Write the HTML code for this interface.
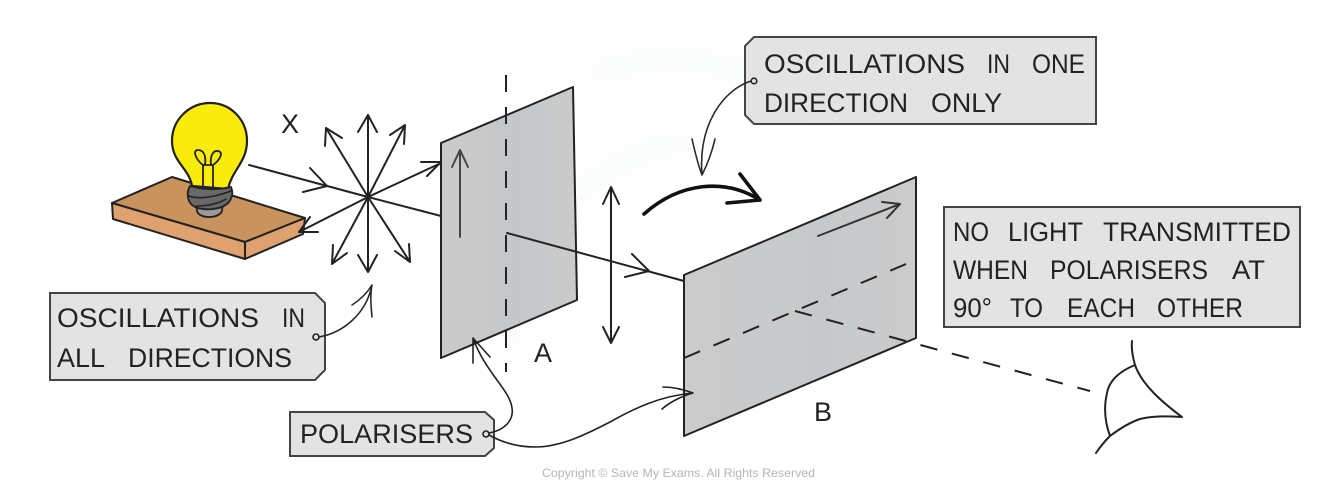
<!DOCTYPE html>
<html>
<head>
<meta charset="utf-8">
<style>
html,body{margin:0;padding:0;background:#fff;width:1334px;height:499px;overflow:hidden}
svg{display:block}
text{font-family:"Liberation Sans",sans-serif;fill:#222}
.l{fill:none;stroke:#222;stroke-width:2;stroke-linecap:round;stroke-linejoin:round}
.t{fill:none;stroke:#2a2a2a;stroke-width:1.6;stroke-linecap:round;stroke-linejoin:round}
.b{fill:#e3e3e3;stroke:#444;stroke-width:2}
.d{fill:none;stroke:#222;stroke-width:2}
.lab text,.lab{font-size:27px}
</style>
</head>
<body>
<svg width="1334" height="499" viewBox="0 0 1334 499" xmlns="http://www.w3.org/2000/svg">
<defs>
<linearGradient id="ga" x1="0" y1="0" x2="1" y2="0">
<stop offset="0" stop-color="#cbcbcb"/><stop offset=".3" stop-color="#c9c9c9"/><stop offset=".55" stop-color="#c3c7ca"/><stop offset="1" stop-color="#cbcbcb"/>
</linearGradient>
<linearGradient id="gb" x1="0" y1="0" x2="1" y2="0">
<stop offset="0" stop-color="#cbcbcb"/><stop offset=".6" stop-color="#c6c9cb"/><stop offset="1" stop-color="#cbcbcb"/>
</linearGradient>
<filter id="bl"><feGaussianBlur stdDeviation="10"/></filter>
</defs>

<!-- faint watermark -->
<g filter="url(#bl)" fill="none" stroke="#f9fbfc" stroke-width="26">
<path d="M590 75 C680 40 780 70 830 125"/>
<path d="M520 350 C470 270 560 170 690 140"/>
</g>

<!-- Board -->
<path d="M112 203 L172 177 L305 218 L245 242 Z" fill="#c8935c" stroke="#222" stroke-width="2" stroke-linejoin="round"/>
<path d="M112 203 L245 242 L245 259 L113 219 Z" fill="#dfa26f" stroke="#222" stroke-width="2" stroke-linejoin="round"/>
<path d="M245 242 L305 218 L303 234 L245 259 Z" fill="#dfa26f" stroke="#222" stroke-width="2" stroke-linejoin="round"/>

<!-- Bulb -->
<path d="M192 186 C189 168 172 162 172 141 C172 119 190 103 210 103 C231 103 247 120 247 141 C247 162 232 170 228 189 Z" fill="#f9ec0c" stroke="#222" stroke-width="2.2" stroke-linejoin="round"/>
<path d="M203 188 L203 165 C196 160 192 150 198 150 C205 150 206 158 205 165 M213 188 L213 165 C220 160 224 152 218 151 C212 150 210 158 211 165 M203 165 L213 165" class="t" style="stroke:#222;stroke-width:1.8"/>
<path d="M196 200 L197 211 C199 219 219 219 222 211 L223 200 Z" fill="#9a9a9a" stroke="#222" stroke-width="1.8"/>
<path d="M190 186 C186 193 187 203 195 207 C205 211 222 210 229 202 C233 196 233 192 231 187 C218 190 204 190 190 186 Z" fill="#686868" stroke="#222" stroke-width="1.8"/>
<path d="M189 196 C200 200 218 196 231 191 M196 206 C206 206 218 204 226 199" class="t" style="stroke:#222"/>

<g class="lab"><text x="290" y="133" text-anchor="middle">X</text></g>

<!-- Star -->
<path class="l" d="M368 197 L368 115 M358 132 L368 115 L377 132 M368 197 L326 128 M325 146 L326 128 L342 138 M368 197 L405 125 M390 135 L405 125 L404 144"/>
<path class="l" d="M368 197 L368 272 M358 255 L368 272 L377 255 M368 197 L332 264 M333 245 L332 264 L347 253 M368 197 L410 262 M395 251 L410 262 L409 244"/>
<path class="l" d="M368 197 L299 232 M310 217 L299 232 L318 232"/>
<path class="l" d="M249 165 L368 197 M310 168 L327 186 L303 192"/>

<!-- Panel A -->
<path d="M441 143 L573 87 L577 300 L441 358 Z" fill="url(#ga)" stroke="#222" stroke-width="2" stroke-linejoin="round"/>
<path class="l" d="M368 197 L441 163 M421 162 L441 162 L427 176 M368 197 L441 216"/>
<path class="l" d="M460 237 L460 150 M452 167 L460 150 L468 167" style="stroke:#444"/>
<path d="M506 75 L506 372" class="d" stroke-dasharray="17 15"/>
<path class="l" d="M507 233 L684 281 M632 254 L649 271 L625 277"/>

<!-- Double arrow -->
<path class="l" d="M611 187 L611 343 M603 204 L611 187 L619 204 M603 327 L611 343 L619 327"/>

<!-- Thick curved arrow -->
<path d="M644 214 C680 182 725 178 760 200 M740 174 L760 200 L727 203" fill="none" stroke="#111" stroke-width="3.6" stroke-linecap="round" stroke-linejoin="round"/>

<!-- Panel B -->
<path d="M684 275 L916 177 L916 338 L684 436 Z" fill="url(#gb)" stroke="#222" stroke-width="2" stroke-linejoin="round"/>
<path class="l" d="M818 236 L900 204 M882 202 L900 204 L887 218" style="stroke:#333"/>
<path d="M684 358 L906 264" class="d" stroke-dasharray="17.5 14.5"/>
<path d="M795 311 L1090 391" class="d" stroke-dasharray="17.5 15"/>

<!-- Eye -->
<path class="l" d="M1132 341 C1131 350 1133 358 1135 365 C1142 385 1162 402 1182 417 C1165 416 1152 416 1140 419 C1128 423 1118 430 1110 436 C1105 441 1100 447 1096 453"/>
<path class="l" d="M1135 365 C1118 372 1109 382 1107 393 C1103 410 1106 425 1110 436"/>

<!-- Box: one direction -->
<path class="b" d="M754 37 L1096 37 L1096 124 L754 124 L745 115 L745 46 Z"/>
<g class="lab">
<text x="764" y="73" textLength="201" lengthAdjust="spacingAndGlyphs">OSCILLATIONS</text>
<text x="987" y="73" textLength="23" lengthAdjust="spacingAndGlyphs">IN</text>
<text x="1032" y="73" textLength="53" lengthAdjust="spacingAndGlyphs">ONE</text>
<text x="764" y="112" textLength="144" lengthAdjust="spacingAndGlyphs">DIRECTION</text>
<text x="931" y="112" textLength="71" lengthAdjust="spacingAndGlyphs">ONLY</text>
</g>
<circle cx="754" cy="81" r="2.8" fill="none" stroke="#222" stroke-width="1.6"/>
<path class="t" d="M751 81 C723 90 698 125 702 175 M692 139 C695 152 698 165 702 175 C707 165 712 152 715 139"/>

<!-- Box: all directions -->
<path class="b" d="M50 293 L315 293 L325 303 L325 370 L315 380 L50 380 Z"/>
<g class="lab">
<text x="57" y="327" textLength="202" lengthAdjust="spacingAndGlyphs">OSCILLATIONS</text>
<text x="282" y="327" textLength="23" lengthAdjust="spacingAndGlyphs">IN</text>
<text x="57" y="367" textLength="48" lengthAdjust="spacingAndGlyphs">ALL</text>
<text x="128" y="367" textLength="164" lengthAdjust="spacingAndGlyphs">DIRECTIONS</text>
</g>
<circle cx="316" cy="337" r="3" fill="none" stroke="#222" stroke-width="1.6"/>
<path class="t" d="M319 337 C342 333 366 315 372 285 M352 305 C360 300 367 293 372 285 C370 295 371 306 372 317"/>

<!-- Box: no light -->
<rect class="b" x="944" y="207" width="356" height="120"/>
<g class="lab">
<text x="953" y="241" textLength="36" lengthAdjust="spacingAndGlyphs">NO</text>
<text x="1008" y="241" textLength="75" lengthAdjust="spacingAndGlyphs">LIGHT</text>
<text x="1103" y="241" textLength="188" lengthAdjust="spacingAndGlyphs">TRANSMITTED</text>
<text x="953" y="279" textLength="75" lengthAdjust="spacingAndGlyphs">WHEN</text>
<text x="1050" y="279" textLength="158" lengthAdjust="spacingAndGlyphs">POLARISERS</text>
<text x="1232" y="279" textLength="33" lengthAdjust="spacingAndGlyphs">AT</text>
<text x="953" y="317" textLength="39" lengthAdjust="spacingAndGlyphs">90°</text>
<text x="1010" y="317" textLength="33" lengthAdjust="spacingAndGlyphs">TO</text>
<text x="1067" y="317" textLength="68" lengthAdjust="spacingAndGlyphs">EACH</text>
<text x="1157" y="317" textLength="86" lengthAdjust="spacingAndGlyphs">OTHER</text>
</g>

<!-- Box: polarisers -->
<path class="b" d="M290 412 L485 412 L494 420 L494 448 L485 456 L290 456 Z"/>
<g class="lab"><text x="300" y="443" textLength="173" lengthAdjust="spacingAndGlyphs">POLARISERS</text></g>
<circle cx="486" cy="434" r="3" fill="none" stroke="#222" stroke-width="1.6"/>
<path class="t" d="M489 433 C505 430 514 420 512 408 C510 390 485 372 473 338 M473 363 L473 338 L490 357" style="stroke:#222"/>
<path class="t" d="M489 435 C505 444 520 447 535 447 C560 447 585 435 610 422 C635 408 660 396 693 393 M663 387 C675 387 685 390 693 393 C682 396 670 402 662 409" style="stroke:#222"/>

<g class="lab">
<text x="543" y="362" text-anchor="middle">A</text>
<text x="823" y="421" text-anchor="middle">B</text>
</g>

<text x="678.5" y="477" font-size="12" text-anchor="middle" style="fill:#b5b5b5" textLength="273" lengthAdjust="spacingAndGlyphs">Copyright © Save My Exams. All Rights Reserved</text>
</svg>
</body>
</html>
